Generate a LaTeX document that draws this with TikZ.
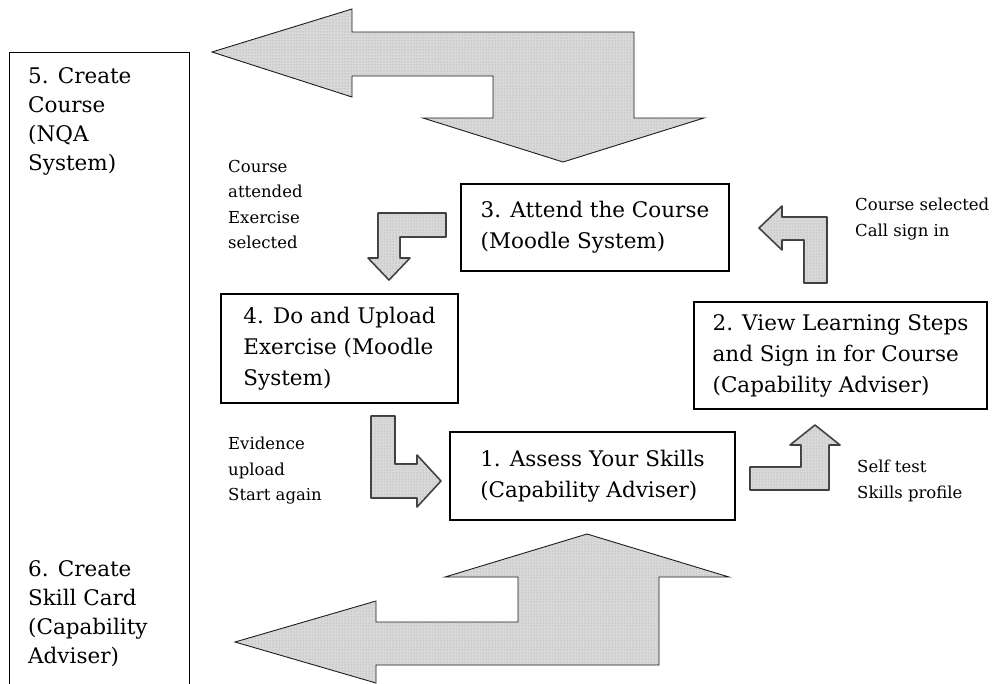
\documentclass[tikz,border=0pt]{standalone}
\usepackage{fontspec}
\setmainfont{DejaVu Serif}
\usetikzlibrary{positioning,patterns}

\begin{document}
\begin{tikzpicture}[x=1pt,y=-1pt,
  box/.style={draw,line width=1.2pt,align=left,inner sep=0pt,font=\fontsize{21.5}{31}\selectfont},
  sidetext/.style={align=left,inner sep=0pt,anchor=north west,font=\fontsize{21.5}{29}\selectfont},
  lbl/.style={align=left,inner sep=0pt,anchor=north west,font=\fontsize{16.5}{25.5}\selectfont},
  dotted fill/.style={fill=black!15,postaction={pattern=dots,pattern color=black!40}},
  bigarrow/.style={draw=black!90,line width=0.9pt,dotted fill,line join=miter},
  smallarrow/.style={draw=black!75,line width=1.6pt,dotted fill,line join=round}]
\useasboundingbox (0,0) rectangle (998,683);

% left column: tasks outside the loop
\node[draw,line width=1.2pt,anchor=north west,minimum width=180pt,minimum height=660pt] (side) at (9,52) {};
\node[sidetext] (create) at (28,67) {5. Create\\Course\\(NQA\\System)};
\node[sidetext] (card) at (28,560) {6. Create\\Skill Card\\(Capability\\Adviser)};

% the loop
\node[box,minimum width=268pt,minimum height=87pt] (attend) at (595,227.5) {3. Attend the Course\\(Moodle System)};
\node[box,minimum width=237pt,minimum height=109pt] (upload) at (339.5,348.5) {4. Do and Upload\\Exercise (Moodle\\System)};
\node[box,minimum width=293pt,minimum height=107pt] (view) at (840.5,355.5) {2. View Learning Steps\\and Sign in for Course\\(Capability Adviser)};
\node[box,minimum width=285pt,minimum height=88pt] (assess) at (592.5,476) {1. Assess Your Skills\\(Capability Adviser)};

% labels
\node[lbl] (attended) at (228,160) {Course\\attended\\Exercise\\selected};
\node[lbl] (evidence) at (228,437) {Evidence\\upload\\Start again};
\node[lbl] (selected) at (855,198) {Course selected\\Call sign in};
\node[lbl] (selftest) at (857,460) {Self test\\Skills profile};

% big arrows
\draw[bigarrow] (212,52) -- (352,9) -- (352,32) -- (634,32) -- (634,118) -- (704,118)
  -- (563,162) -- (423,118) -- (493,118) -- (493,76) -- (352,76) -- (352,97) -- cycle;
\draw[bigarrow] (235,642) -- (376,601) -- (376,622) -- (518,622) -- (518,577) -- (445,577)
  -- (587,534) -- (729,577) -- (659,577) -- (659,665) -- (376,665) -- (376,683) -- cycle;

% small arrows
\draw[smallarrow] (446,213) -- (378,213) -- (378,258) -- (368,258) -- (389,280)
  -- (410,258) -- (400,258) -- (400,237) -- (446,237) -- cycle;
\draw[smallarrow] (371,416) -- (395,416) -- (395,464) -- (417,464) -- (417,455)
  -- (441,481) -- (417,507) -- (417,498) -- (371,498) -- cycle;
\draw[smallarrow] (750,467) -- (801,467) -- (801,445) -- (790,445) -- (815,425)
  -- (840,445) -- (829,445) -- (829,490) -- (750,490) -- cycle;
\draw[smallarrow] (804,283) -- (804,240) -- (782,240) -- (782,250) -- (759,228)
  -- (782,206) -- (782,217) -- (827,217) -- (827,283) -- cycle;
\end{tikzpicture}
\end{document}
